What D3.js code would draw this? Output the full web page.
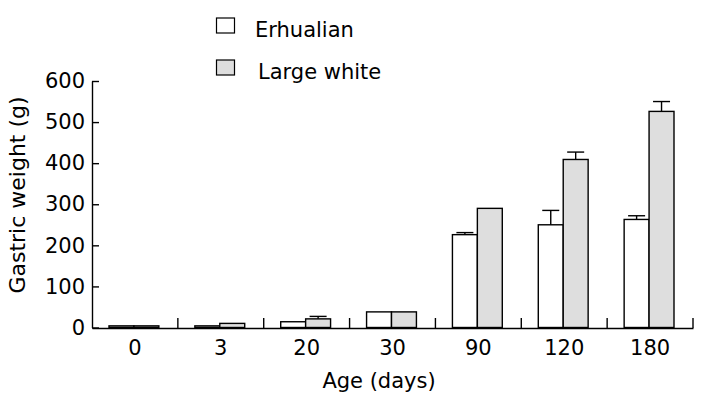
<!DOCTYPE html>
<html>
<head>
<meta charset="utf-8">
<script src="https://cdn.jsdelivr.net/npm/d3@7"></script>
<style>
  body { margin: 0; background: #fff; }
  svg { display: block; font-family: "DejaVu Sans", sans-serif; }
</style>
</head>
<body>
<div id="chart"></div>
<script>
const ages = ["0", "3", "20", "30", "90", "120", "180"];
const seriesNames = ["Erhualian", "Large white"];
const erhualian = [4, 4, 14, 38, 226, 250, 263];
const erhualianErr = [0, 0, 0, 0, 5, 35, 9];
const largeWhite = [4, 10, 21, 38, 290, 409, 526];
const largeWhiteErr = [0, 0, 6, 0, 0, 18, 24];
const yTicks = [0, 100, 200, 300, 400, 500, 600];

const W = 701, H = 414;
const fills = ["#ffffff", "#dedede"];

const rows = [];
ages.forEach((a, i) => {
  rows.push({ age: a, s: seriesNames[0], v: erhualian[i], e: erhualianErr[i] });
  rows.push({ age: a, s: seriesNames[1], v: largeWhite[i], e: largeWhiteErr[i] });
});

const x = d3.scaleBand().domain(ages).range([92, 693]).padding(0);
const bw = x.bandwidth();
const xs = d3.scaleBand().domain(seriesNames).range([17, bw - 19]).padding(0);
const y = d3.scaleLinear().domain([0, 600]).range([327.5, 81]);
const color = d3.scaleOrdinal().domain(seriesNames).range(fills);

const svg = d3.select("#chart").append("svg")
  .attr("width", W).attr("height", H);

// Bars
svg.append("g").selectAll("rect")
  .data(rows)
  .join("rect")
  .attr("x", d => x(d.age) + xs(d.s))
  .attr("y", d => y(d.v))
  .attr("width", xs.bandwidth())
  .attr("height", d => y(0) - y(d.v))
  .attr("fill", d => color(d.s))
  .attr("stroke", "#000")
  .attr("stroke-width", 1.4);

// Error bars (upper only)
const eb = svg.append("g").attr("stroke", "#000").attr("stroke-width", 1.4);
rows.filter(d => d.e > 0).forEach(d => {
  const cx = x(d.age) + xs(d.s) + xs.bandwidth() / 2;
  eb.append("line").attr("x1", cx).attr("x2", cx)
    .attr("y1", y(d.v)).attr("y2", y(d.v + d.e));
  eb.append("line").attr("x1", cx - 8.5).attr("x2", cx + 8.5)
    .attr("y1", y(d.v + d.e)).attr("y2", y(d.v + d.e));
});

// Y axis (ticks inward)
const yAxis = svg.append("g")
  .attr("transform", "translate(92,0)")
  .call(d3.axisRight(y).tickValues(yTicks).tickSize(7).tickSizeOuter(0));
yAxis.select(".domain").attr("stroke-width", 1.4);
yAxis.selectAll(".tick line").attr("stroke-width", 1.4);
yAxis.selectAll(".tick text")
  .attr("x", -7).attr("text-anchor", "end")
  .attr("font-size", 21).attr("font-family", "DejaVu Sans").attr("fill", "#000");

// X axis
const xAxis = svg.append("g")
  .attr("transform", `translate(0,${y(0) + 0.5})`)
  .call(d3.axisBottom(x).tickSize(0).tickSizeOuter(0));
xAxis.select(".domain").attr("stroke-width", 1.4);
xAxis.selectAll(".tick text")
  .attr("y", 12)
  .attr("font-size", 21).attr("font-family", "DejaVu Sans").attr("fill", "#000");

// Category separators (upward)
svg.append("g").selectAll("line")
  .data(ages.slice(1).concat(["end"]))
  .join("line")
  .attr("x1", (d, i) => i < ages.length - 1 ? x(d) : x.range()[1])
  .attr("x2", (d, i) => i < ages.length - 1 ? x(d) : x.range()[1])
  .attr("y1", y(0) + 0.5)
  .attr("y2", y(0) - 9.5)
  .attr("stroke", "#000")
  .attr("stroke-width", 1.4);

// Axis titles
svg.append("text")
  .attr("x", 379).attr("y", 388)
  .attr("text-anchor", "middle")
  .attr("font-size", 21)
  .text("Age (days)");

svg.append("text")
  .attr("transform", "translate(25,195) rotate(-90)")
  .attr("text-anchor", "middle")
  .attr("font-size", 22)
  .text("Gastric weight (g)");

// Legend
const legend = svg.append("g").selectAll("g")
  .data(seriesNames)
  .join("g")
  .attr("transform", (d, i) => `translate(216.5,${18 + i * 42})`);
legend.append("rect")
  .attr("width", 18).attr("height", 15)
  .attr("fill", d => color(d))
  .attr("stroke", "#000").attr("stroke-width", 1.2);
legend.append("text")
  .attr("x", (d, i) => 38.5 + i * 3)
  .attr("y", 18.5)
  .attr("font-size", 21)
  .text(d => d);
</script>
</body>
</html>
